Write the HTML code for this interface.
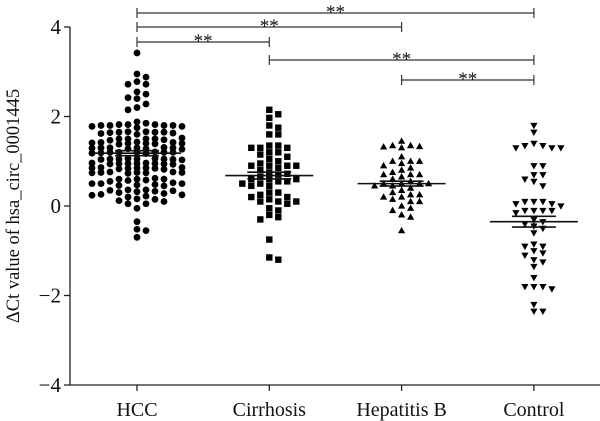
<!DOCTYPE html>
<html><head><meta charset="utf-8"><style>
html,body{margin:0;padding:0;background:#fff}
svg{display:block}
text{font-family:"Liberation Serif",serif;fill:#111}
</style></head><body>
<svg id="chart" width="600" height="421" viewBox="0 0 600 421">
<g id="axes"></g>
<g id="marks"></g>
<g id="stats"></g>
<g id="brackets"></g>
<text transform="translate(19,206) rotate(-90)" text-anchor="middle" font-size="18.5">ΔCt value of hsa_circ_0001445</text>
</svg>
<script>
const categories = ["HCC","Cirrhosis","Hepatitis B","Control"];
const yTicks = [-4,-2,0,2,4];
const hccValues = [3.42,2.95,2.88,2.72,2.72,2.78,2.55,2.5,2.42,2.4,2.28,2.2,2.15,
1.88,1.85,1.82,1.8,1.8,1.78,1.8,1.82,1.75,1.8,1.78,1.82,
1.65,1.65,1.62,1.66,1.64,1.6,1.65,1.63,1.66,
1.5,1.48,1.52,1.5,1.47,1.5,1.5,
1.42,1.4,1.43,1.38,1.41,1.4,1.42,1.39,1.4,
1.3,1.28,1.3,1.27,1.3,1.29,1.31,1.28,1.3,
1.2,1.18,1.21,1.2,1.17,1.2,1.19,1.2,1.2,
1.05,1.04,1.06,1.05,1.03,1.05,1.06,1.04,1.05,
0.95,0.94,0.96,0.95,0.93,0.95,0.96,0.94,0.95,
0.85,0.84,0.86,0.83,0.85,0.86,0.84,0.85,0.82,
0.75,0.74,0.76,0.75,0.73,0.76,0.74,0.75,
0.6,0.58,0.62,0.6,0.57,0.6,0.55,
0.5,0.48,0.46,0.5,0.47,0.5,0.45,0.52,
0.35,0.33,0.36,0.34,0.32,0.36,0.3,
0.25,0.24,0.26,0.22,0.28,0.2,
0.15,0.12,0.16,0.1,0.05,0.05,
-0.05,-0.35,-0.52,-0.55,-0.7];
const cirrhosisValues = [2.15,2.05,1.97,1.8,1.75,1.6,1.6,1.35,1.3,1.3,1.3,1.35,1.2,1.2,1.15,1.1,1.05,1.0,0.95,0.9,0.9,0.9,0.9,0.85,0.8,0.75,0.72,0.7,0.65,0.6,0.6,0.6,0.55,0.55,0.5,0.5,0.45,0.45,0.3,0.3,0.25,0.2,0.2,0.15,0.1,0.1,0.1,0.05,-0.05,-0.1,-0.2,-0.25,-0.3,-0.75,-1.15,-1.2];
const hepBValues = [1.45,1.35,1.35,1.33,1.32,1.3,1.1,1.0,1.0,1.0,0.95,0.9,0.85,0.8,0.75,0.7,0.7,0.7,0.65,0.6,0.55,0.5,0.5,0.5,0.5,0.45,0.45,0.4,0.35,0.3,0.25,0.25,0.2,0.2,0.15,0.1,0.1,0.0,-0.05,-0.1,-0.2,-0.25,-0.55];
const controlValues = [1.8,1.65,1.35,1.4,1.3,1.3,1.3,1.35,0.9,0.9,0.7,0.6,0.55,0.7,0.45,0.1,0.1,0.05,0.1,0.0,0.05,-0.1,-0.1,-0.1,-0.15,-0.1,-0.3,-0.35,-0.4,-0.45,-0.5,-0.6,-0.85,-0.9,-0.9,-1.0,-1.05,-1.1,-1.2,-1.25,-1.35,-1.6,-1.8,-1.8,-1.85,-1.8,-2.2,-2.35,-2.35];
const meanValues = [1.18,0.68,0.5,-0.35];
const semValues = [0.055,0.075,0.055,0.12];
const comparisons = [[0,3],[0,2],[0,1],[1,3],[2,3]];
const comparisonLabels = ["**","**","**","**","**"];

const NS="http://www.w3.org/2000/svg";
const X0=70, X1=600, Y0=385;
function yScale(v){return 206 - v*44.75;}
function xScale(i){return 137 + i*132.3;}
function mk(tag,attrs,parent){const e=document.createElementNS(NS,tag);for(const k in attrs)e.setAttribute(k,attrs[k]);parent.appendChild(e);return e;}

const axes=document.getElementById('axes');
let l=mk('line',{x1:X0,y1:27,x2:X0,y2:Y0,stroke:'#222','stroke-width':1.3},axes);


l=mk('line',{x1:X0,y1:Y0,x2:X1,y2:Y0,stroke:'#222','stroke-width':1.3},axes);


yTicks.forEach(t=>{
  const y=yScale(t);
  const tk=mk('line',{x1:X0-6,y1:y,x2:X0,y2:y,stroke:'#222','stroke-width':1.3},axes);
  
  
  const tx=mk('text',{x:X0-9,y:y+7,'text-anchor':'end','font-size':21},axes);
  tx.textContent=t<0?'\u2212'+Math.abs(t):String(t);
  
  
});
categories.forEach((c,i)=>{
  const x=xScale(i);
  const tk=mk('line',{x1:x,y1:Y0,x2:x,y2:Y0+6,stroke:'#222','stroke-width':1.3},axes);
  
  
  const tx=mk('text',{x:x,y:416,'text-anchor':'middle','font-size':20},axes);
  tx.textContent=c;
  
  
});

const marks=document.getElementById('marks');
const groups=[hccValues,cirrhosisValues,hepBValues,controlValues];
const shapes=['circle','square','up','down'];
groups.forEach((vals,gi)=>{
  const cx=xScale(gi);
  const placed=[];
  const sorted=vals.slice().sort((a,b)=>b-a);
  sorted.forEach(v=>{
    const y=yScale(v);
    let best=0,bestD=-1,found=false;
    for(let k=0;k<11;k++){
      const cand=k===0?0:(k%2?1:-1)*Math.ceil(k/2)*9;
      let md=Infinity;
      placed.forEach(p=>{md=Math.min(md,Math.hypot(p[0]-(cx+cand),p[1]-y));});
      if(md>=6.5){best=cand;found=true;break;}
      if(md>bestD){bestD=md;best=cand;}
    }
    const x=cx+best;placed.push([x,y]);
    let e;
    if(shapes[gi]==='circle') e=mk('circle',{cx:x,cy:y,r:3.4,fill:'#000'},marks);
    else if(shapes[gi]==='square') e=mk('rect',{x:x-3.2,y:y-3.2,width:6.4,height:6.4,fill:'#000'},marks);
    else if(shapes[gi]==='up') e=mk('polygon',{points:`${x},${y-3.8} ${x-3.6},${y+2.6} ${x+3.6},${y+2.6}`,fill:'#000'},marks);
    else e=mk('polygon',{points:`${x},${y+3.8} ${x-3.6},${y-2.6} ${x+3.6},${y-2.6}`,fill:'#000'},marks);
    
    
  });
});

const stats=document.getElementById('stats');
meanValues.forEach((m,i)=>{
  const x=xScale(i);
  let e=mk('line',{x1:x-44,y1:yScale(m),x2:x+44,y2:yScale(m),stroke:'#111','stroke-width':1.6},stats);
  
  
  [m+semValues[i],m-semValues[i]].forEach(s=>{
    const f=mk('line',{x1:x-22,y1:yScale(s),x2:x+22,y2:yScale(s),stroke:'#111','stroke-width':1.6},stats);
    
    
  });
  const v=mk('line',{x1:x,y1:yScale(m+semValues[i]),x2:x,y2:yScale(m-semValues[i]),stroke:'#111','stroke-width':1.6},stats);
  
  
});

const br=document.getElementById('brackets');
const brY=[13,27,42,60,80];
comparisons.forEach((c,k)=>{
  const xa=xScale(c[0]), xb=xScale(c[1]), y=brY[k];
  let e=mk('line',{x1:xa,y1:y,x2:xb,y2:y,stroke:'#333','stroke-width':1.2},br);
  
  
  [xa,xb].forEach(x=>{
    const t=mk('line',{x1:x,y1:y-5,x2:x,y2:y+5,stroke:'#333','stroke-width':1.2},br);
    
    
  });
  const tx=mk('text',{x:(xa+xb)/2,y:y+5,'text-anchor':'middle','font-size':19},br);
  tx.textContent=comparisonLabels[k];
  
  
});
</script>
</body></html>
